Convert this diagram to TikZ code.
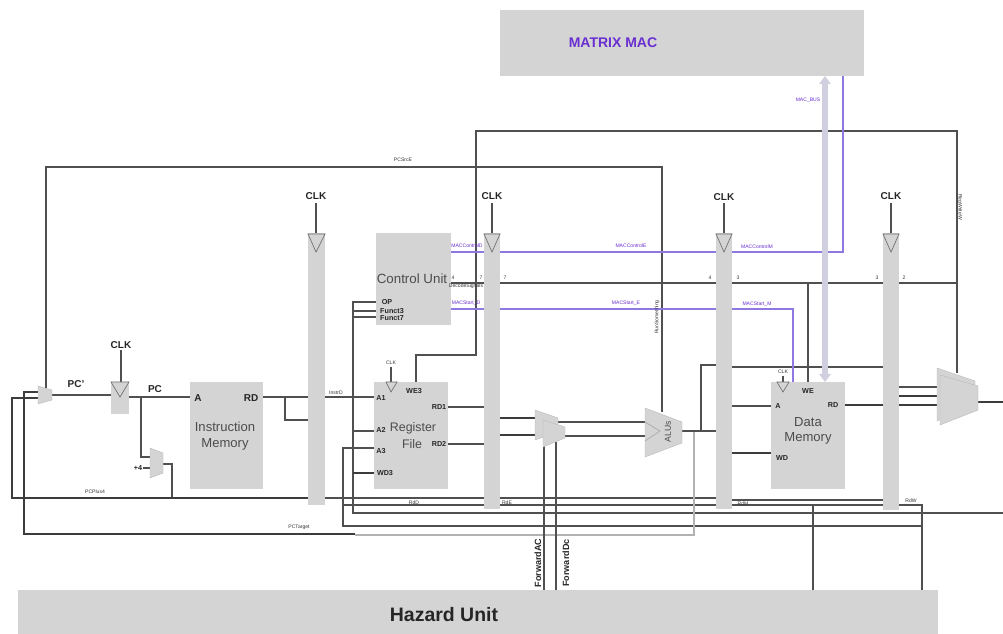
\documentclass[tikz,border=0pt]{standalone}
\usepackage{fontspec}
\setmainfont{Liberation Sans}
\usetikzlibrary{arrows.meta}
\definecolor{boxg}{HTML}{D4D4D4}
\definecolor{wire}{HTML}{505050}
\definecolor{wired}{HTML}{3C3C3C}
\definecolor{mac}{HTML}{8F78E0}
\definecolor{bus}{HTML}{CFCFE0}
\definecolor{macT}{HTML}{6A2FD0}
\tikzset{
 x=0.75pt,y=-0.75pt,
 wirel/.style={draw=wire,line width=0.8pt},
 thickw/.style={draw=wired,line width=0.9pt},
 macw/.style={draw=mac,line width=1pt},
 tri/.style={draw=gray!85!black,line width=0.5pt,fill=boxg},
 muxs/.style={fill=boxg,draw=gray!55,line width=0.3pt},
 bigt/.style={font=\fontsize{7.5pt}{8pt}\selectfont\bfseries,text=black!85,inner sep=0},
 pin/.style={font=\fontsize{5.4pt}{6pt}\selectfont\bfseries,text=black!85,inner sep=0},
 tiny/.style={font=\fontsize{3.8pt}{4pt}\selectfont,text=black!80,inner sep=0},
 tinym/.style={font=\fontsize{3.8pt}{4pt}\selectfont,text=macT,inner sep=0},
 unit/.style={font=\fontsize{9.8pt}{11pt}\selectfont,text=black!70,inner sep=0,align=center},
}
\begin{document}
\begin{tikzpicture}
\useasboundingbox (0,0) rectangle (1003,634);
% blocks
\fill[boxg] (500,10) rectangle (864,76);
\fill[boxg] (18,590) rectangle (938,634);
\fill[boxg] (308,233) rectangle (325,505);
\fill[boxg] (484,233) rectangle (500,509);
\fill[boxg] (716,233) rectangle (732,509);
\fill[boxg] (883,233) rectangle (899,510);
\fill[boxg] (111,382) rectangle (129,414);
\fill[boxg] (190,382) rectangle (263,489);
\fill[boxg] (376,233) rectangle (451,325);
\fill[boxg] (374,382) rectangle (448,489);
\fill[boxg] (771,382) rectangle (845,489);
% wires: top
\draw[wirel] (46,388) -- (46,167) -- (662,167) -- (662,412);
\draw[wirel] (416,382) -- (416,355) -- (476,355) -- (476,131) -- (957,131) -- (957,373);
% control wires
\draw[wirel] (451,283) -- (484,283) (500,283) -- (716,283) (732,283) -- (883,283) (899,283) -- (957,283);
\draw[wirel] (808,283) -- (808,382);
\draw[wirel] (376,302) -- (353,302) -- (353,513) -- (1003,513);
\draw[wirel] (376,311) -- (353,311) (376,317) -- (353,317);
\draw[wirel] (353,431) -- (374,431);
\draw[thickw] (353,473) -- (374,473);
\draw[wirel] (325,397) -- (374,397);
\draw[wirel] (374,448) -- (343,448) -- (343,526) -- (922,526);
\draw[wirel] (325,498) -- (484,498) (500,498) -- (716,498) (732,500) -- (883,500);
\draw[wirel] (343,505) -- (484,505) (500,505) -- (716,505) (732,505) -- (883,505);
\draw[wirel] (899,505) -- (922,505) -- (922,590);
\draw[wirel] (813,505) -- (813,590);
% left part
\draw[wirel] (52,395) -- (111,395);
\draw[wirel] (129,397) -- (190,397);
\draw[wirel] (141,397) -- (141,457) -- (150,457);
\draw[wirel] (143,468) -- (150,468);
\draw[wirel] (163,464) -- (172,464) -- (172,498);
\draw[thickw] (38,398) -- (12,398) -- (12,498) -- (308,498);
\draw[thickw] (38,392) -- (24,392) -- (24,534) -- (355,534);
\draw[draw=gray!60,line width=0.8pt] (355,535) -- (694,535) -- (694,431);
\draw[wirel] (263,397) -- (308,397);
\draw[wirel] (285,397) -- (285,420) -- (308,420);
% clocks
\draw[wirel] (121,350) -- (121,382) (316,203) -- (316,233) (492,203) -- (492,233) (724,203) -- (724,233) (891,203) -- (891,233) (391,367) -- (391,382) (783,376) -- (783,382);
% data path
\draw[wirel] (448,407) -- (484,407) (448,444) -- (484,444);
\draw[thickw] (500,418) -- (535,418) (500,435) -- (535,435);
\draw[wirel] (558,422) -- (645,422);
\draw[wirel] (565,436) -- (645,436);
\draw[wirel] (544,445) -- (544,590);
\draw[wirel] (556,442) -- (556,590);
\draw[wirel] (682,431) -- (716,431);
\draw[wirel] (701,431) -- (701,365) -- (716,365);
\draw[wirel] (732,367) -- (883,367);
\draw[wirel] (732,406) -- (771,406);
\draw[thickw] (732,453) -- (771,453);
\draw[thickw] (845,405) -- (883,405);
\draw[wirel] (899,387) -- (938,387);
\draw[thickw] (899,396) -- (938,396) (899,405) -- (938,405);
\draw[thickw] (978,402) -- (1003,402);
% MAC
\draw[macw] (451,252) -- (484,252) (500,252) -- (716,252) (732,252) -- (843,252) -- (843,76);
\draw[macw] (451,309) -- (484,309) (500,309) -- (716,309) (732,309) -- (793,309) -- (793,382);
\draw[draw=bus,line width=4.6pt,{Triangle[length=6pt,width=8.5pt]}-{Triangle[length=6pt,width=8.5pt]}] (825,76) -- (825,382);
% triangles
\draw[tri] (111,382) -- (129,382) -- (120,397) -- cycle;
\draw[tri] (308,234) -- (325,234) -- (316,252) -- cycle;
\draw[tri] (484,234) -- (500,234) -- (492,252) -- cycle;
\draw[tri] (716,234) -- (732,234) -- (724,252) -- cycle;
\draw[tri] (883,234) -- (899,234) -- (891,252) -- cycle;
\draw[tri] (386,382) -- (397,382) -- (391,392) -- cycle;
\draw[tri] (777,382) -- (789,382) -- (783,392) -- cycle;
% muxes
\draw[muxs] (38,386) -- (52,390) -- (52,400) -- (38,404) -- cycle;
\draw[muxs] (150,448) -- (163,453) -- (163,473) -- (150,478) -- cycle;
\draw[muxs] (535,410) -- (558,418) -- (558,432) -- (535,440) -- cycle;
\draw[muxs] (543,420) -- (565,427) -- (565,438) -- (543,447) -- cycle;
\draw[muxs] (645,408) -- (682,422) -- (682,443) -- (645,457) -- cycle;
\draw[draw=gray!70,line width=0.5pt] (645,422) -- (660,431) -- (645,441);
\draw[muxs] (937,368) -- (975,381) -- (975,405) -- (937,421) -- cycle;
\draw[muxs] (940,375) -- (978,386) -- (978,410) -- (940,425) -- cycle;
% big text
\node[font=\fontsize{10.5pt}{12pt}\selectfont\bfseries,text=macT,inner sep=0] (macn) at (613,43) {MATRIX MAC};
\node[font=\fontsize{14.6pt}{16pt}\selectfont\bfseries,text=black!85,inner sep=0] (haz) at (444,615) {Hazard Unit};
\foreach \n/\x/\y in {c1/121/345,c2/316/196,c3/492/196,c4/724/197,c5/891/196}
  \node[bigt] (\n) at (\x,\y) {CLK};
\node[bigt] (pcp) at (76,384) {PC'};
\node[bigt] (pcn) at (155,389) {PC};
\node[bigt] (ima) at (198,398) {A};
\node[bigt] (imrd) at (251,398) {RD};
\node[unit] (im) at (225,436) {Instruction\\[1pt]Memory};
\node[unit,font=\fontsize{10pt}{12pt}\selectfont] (cu) at (412,279) {Control Unit};
\node[unit,font=\fontsize{9.3pt}{11pt}\selectfont] (rf) at (413,428) {Register};
\node[unit,font=\fontsize{9.3pt}{11pt}\selectfont] (rf2) at (412,444) {File};
\node[unit] (dm) at (808,431) {Data\\[0pt]Memory};
\node[unit,rotate=90,font=\fontsize{6.5pt}{7pt}\selectfont] (alu) at (668,432) {ALUs};
% pins
\node[pin] (p1) at (387,302) {OP};
\node[pin] (p2) at (392,311) {Funct3};
\node[pin] (p3) at (392,318) {Funct7};
\node[pin] (p4) at (381,398) {A1};
\node[pin] (p5) at (414,391) {WE3};
\node[pin] (p6) at (439,407) {RD1};
\node[pin] (p7) at (381,430) {A2};
\node[pin] (p8) at (439,444) {RD2};
\node[pin] (p9) at (381,451) {A3};
\node[pin] (p10) at (385,473) {WD3};
\node[pin] (p11) at (778,406) {A};
\node[pin] (p12) at (808,391) {WE};
\node[pin] (p13) at (833,405) {RD};
\node[pin] (p14) at (782,458) {WD};
\node[pin] (p15) at (138,468) {+4};
\node[pin,rotate=90,font=\fontsize{6.8pt}{7pt}\selectfont\bfseries] (fa) at (538,563) {ForwardAC};
\node[pin,rotate=90,font=\fontsize{6.8pt}{7pt}\selectfont\bfseries] (fb) at (566,563) {ForwardDc};
\node[tiny] (ck1) at (391,363) {CLK};
\node[tiny] (ck2) at (783,372) {CLK};
% tiny labels
\node[tiny] (l1) at (403,160) {PCSrcE};
\node[tiny] (l2) at (95,492) {PCPlus4};
\node[tiny] (l3) at (299,527) {PCTarget};
\node[tiny] (l4) at (336,393) {InstrD};
\node[tiny] (l5) at (466,286) {DecodeSignals};
\node[tiny] (l6) at (414,503) {RdD};
\node[tiny] (l7) at (507,503) {RdE};
\node[tiny] (l8) at (743,504) {RdM};
\node[tiny] (l9) at (911,501) {RdW};
\node[tiny,rotate=90] (l10) at (657,317) {RunSomething};
\node[tiny,rotate=270] (l11) at (960,207) {RegWriteW};
\foreach \n/\x/\t in {a/453/4,b/481/7,c/505/7,d/710/4,e/738/3,f/877/3,g/904/2}
  \node[tiny] (n\n) at (\x,278) {\t};
\node[tinym] (m1) at (467,246) {MACControlD};
\node[tinym] (m2) at (631,246) {MACControlE};
\node[tinym] (m3) at (757,247) {MACControlM};
\node[tinym] (m4) at (466,303) {MACStart\_D};
\node[tinym] (m5) at (626,303) {MACStart\_E};
\node[tinym] (m6) at (757,304) {MACStart\_M};
\node[tinym] (m7) at (808,100) {MAC\_BUS};
\end{tikzpicture}
\end{document}
